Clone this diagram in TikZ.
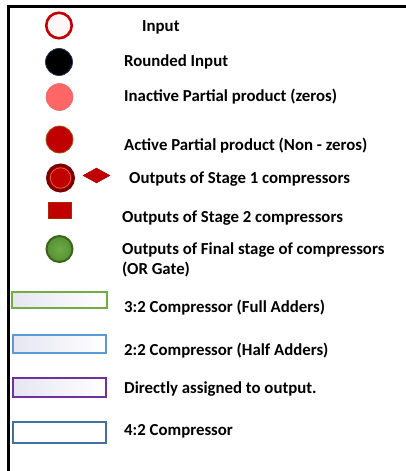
\documentclass[tikz,border=0pt]{standalone}
\usepackage{fontspec}
\setmainfont{Carlito}
\usetikzlibrary{shapes.geometric}
\definecolor{dred}{HTML}{C00000}
\definecolor{pinkc}{HTML}{FF6666}
\definecolor{gline}{HTML}{70AD47}
\definecolor{bline}{HTML}{5B9BD5}
\definecolor{pline}{HTML}{7030A0}
\definecolor{cline}{HTML}{41719C}
\definecolor{lav}{HTML}{E6E6F2}
\definecolor{navyedge}{RGB}{40,60,90}
\definecolor{brownedge}{RGB}{160,90,30}
\definecolor{maroon}{RGB}{120,0,0}
\definecolor{orangeln}{RGB}{230,120,50}
\definecolor{diaedge}{RGB}{170,0,0}
\definecolor{rectedge}{RGB}{170,40,0}
\definecolor{gedge}{RGB}{56,100,30}
\definecolor{gin}{RGB}{110,170,70}
\definecolor{gout}{RGB}{85,145,50}
\tikzset{
  lbl/.style={anchor=base west, inner sep=0pt, font=\fontsize{16.8}{20}\selectfont\bfseries},
  cbox/.style={line width=1.1pt, left color=lav, right color=white}
}
\begin{document}
\begin{tikzpicture}[x=1pt,y=-1pt]
\useasboundingbox (0,0) rectangle (406,471);
% frame
\draw[line width=3pt] (8.5,6.5) -- (406,6.5);
\draw[line width=3pt] (8.5,5) -- (8.5,471);
% symbols
\node (inp) [circle, draw=dred, line width=2.6pt, fill=red!3, minimum size=25.5pt, inner sep=0pt] at (59,25.5) {};
\node (rnd) [circle, draw=navyedge, line width=0.8pt, fill=black, minimum size=27pt, inner sep=0pt] at (59,62) {};
\node (ina) [circle, draw=pinkc!80!gray, line width=0.5pt, fill=pinkc, minimum size=27pt, inner sep=0pt] at (59.5,97) {};
\node (act) [circle, draw=brownedge, line width=0.8pt, fill=dred, minimum size=27pt, inner sep=0pt] at (59.5,139.5) {};
\node (st1) [circle, draw=maroon, line width=3pt, fill=dred, minimum size=26pt, inner sep=0pt] at (60.5,178) {};
\node (st1in) [circle, draw=orangeln, line width=0.6pt, minimum size=20.4pt, inner sep=0pt] at (60.5,178) {};
\node (dia) [diamond, aspect=1.8, draw=diaedge, line width=0.5pt, fill=dred, minimum width=27pt, minimum height=15pt, inner sep=0pt] at (96.5,175.5) {};
\node (st2) [rectangle, draw=rectedge, line width=0.5pt, fill=dred, minimum width=23pt, minimum height=16pt, inner sep=0pt] at (59.5,210) {};
\node (fin) [circle, draw=gedge, line width=2pt, inner color=gin, outer color=gout, minimum size=26pt, inner sep=0pt] at (59.5,249) {};
% compressor boxes
\node (fa) [cbox, draw=gline, rectangle, minimum width=95pt, minimum height=16pt, inner sep=0pt] at (59.5,300) {};
\node (ha) [cbox, draw=bline, rectangle, minimum width=93pt, minimum height=18pt, inner sep=0pt] at (59.5,344) {};
\node (da) [cbox, draw=pline, rectangle, minimum width=93pt, minimum height=19pt, inner sep=0pt] at (59.5,387.5) {};
\node (fc) [draw=cline, line width=1.1pt, fill=white, rectangle, minimum width=93pt, minimum height=21pt, inner sep=0pt] at (59.5,432.5) {};
% labels
\node (t1) [lbl] at (142,31.5) {Input};
\node (t2) [lbl] at (124,66.5) {Rounded Input};
\node (t3) [lbl] at (124,101.5) {Inactive Partial product (zeros)};
\node (t4) [lbl] at (124,150) {Active Partial product (Non - zeros)};
\node (t5) [lbl] at (129,183) {Outputs of Stage 1 compressors};
\node (t6) [lbl] at (122,222) {Outputs of Stage 2 compressors};
\node (t7) [lbl] at (122,254) {Outputs of Final stage of compressors};
\node (t8) [lbl] at (122,274) {(OR Gate)};
\node (t9) [lbl] at (124,312.5) {3:2 Compressor (Full Adders)};
\node (t10) [lbl] at (124,355) {2:2 Compressor (Half Adders)};
\node (t11) [lbl] at (124,393) {Directly assigned to output.};
\node (t12) [lbl] at (124,435) {4:2 Compressor};
\end{tikzpicture}
\end{document}
